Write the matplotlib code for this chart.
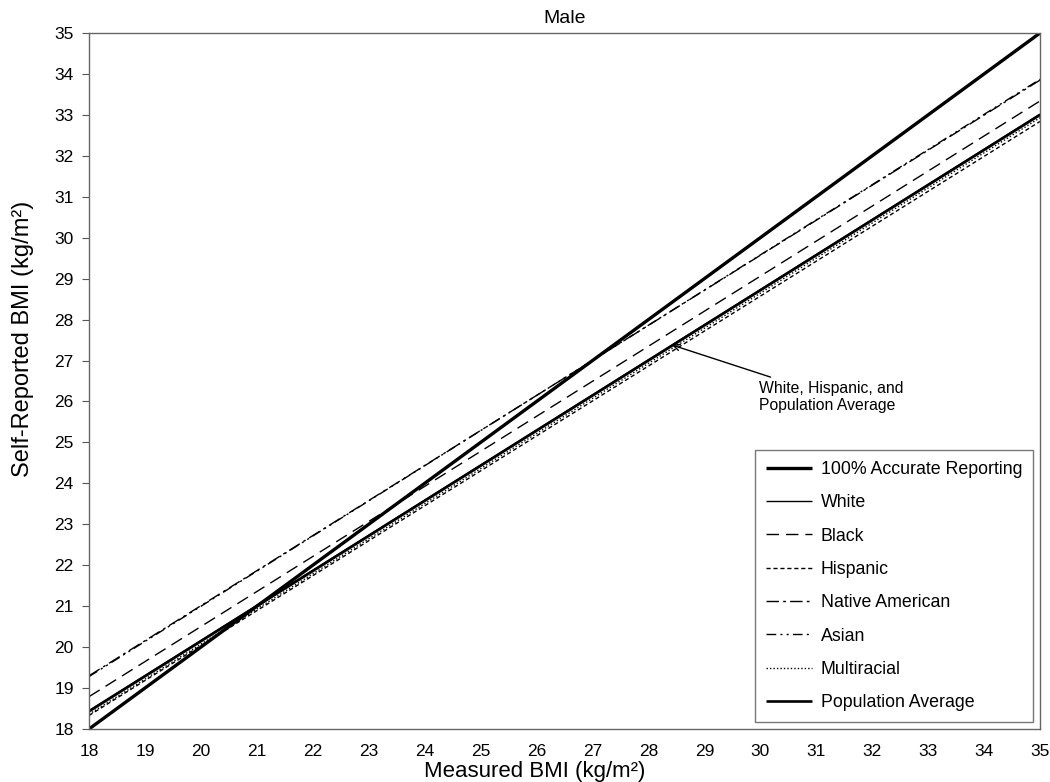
import matplotlib
matplotlib.use("Agg")
import matplotlib.pyplot as plt
import numpy as np

plt.rcParams['font.family'] = ['Liberation Sans', 'DejaVu Sans']

# Data: line endpoints (measured BMI 18 -> 35)
x_range = [18, 35]
series_names = ["100% Accurate Reporting", "White", "Black", "Hispanic",
                "Native American", "Asian", "Multiracial", "Population Average"]
accurate = [18.0, 35.0]
white = [18.45, 33.02]
black = [18.79, 33.34]
hispanic = [18.33, 32.84]
native_american = [19.30, 33.85]
asian = [19.28, 33.87]
multiracial = [18.36, 32.93]
population_average = [18.43, 33.00]

x_tick_labels = [str(v) for v in range(18, 36)]
y_tick_labels = [str(v) for v in range(18, 36)]

fig = plt.figure(figsize=(10.5, 7.82), dpi=100)
ax = fig.add_axes([0.0848, 0.0678, 0.9057, 0.89])

styles = [
    dict(color='black', lw=2.4, ls='-'),
    dict(color='black', lw=1.0, ls='-'),
    dict(color='black', lw=1.0, ls=(0, (9, 5))),
    dict(color='black', lw=1.0, ls=(0, (3, 2))),
    dict(color='black', lw=1.0, ls=(0, (9, 3, 2, 3))),
    dict(color='black', lw=1.0, ls=(0, (7, 3, 1.5, 3, 1.5, 3))),
    dict(color='black', lw=1.0, ls=(0, (1, 1.5))),
    dict(color='black', lw=1.9, ls='-'),
]
data = [accurate, white, black, hispanic, native_american, asian, multiracial, population_average]
for name, vals, st in zip(series_names, data, styles):
    ax.plot(x_range, vals, label=name, solid_capstyle='butt', **st)

ax.set_xlim(18, 35)
ax.set_ylim(18, 35)

ax.set_xticks(range(18, 36))
ax.set_xticklabels(x_tick_labels, fontsize=12.5)
ax.set_xticks([18, 23, 28, 33], minor=True)
ax.tick_params(axis='x', which='major', length=0, pad=11)
ax.tick_params(axis='x', which='minor', length=6, direction='out', color='#555555')
ax.set_yticks(range(18, 36))
ax.set_yticklabels(y_tick_labels, fontsize=12.5)
ax.tick_params(axis='y', which='major', length=5, direction='out', color='#555555', pad=6)

for s in ax.spines.values():
    s.set_color('#666666')
    s.set_linewidth(1.0)

ax.set_xlabel("Measured BMI (kg/m²)", fontsize=16)
ax.xaxis.set_label_coords(0.469, -0.046)
ax.set_ylabel("Self-Reported BMI (kg/m²)", fontsize=17)
ax.yaxis.set_label_coords(-0.058, 0.56)
ax.set_title("Male", fontsize=14, pad=7)

leg = ax.legend(loc='lower right', bbox_to_anchor=(0.9926, 0.01), fontsize=12.8,
                frameon=True, fancybox=False, edgecolor='#555555',
                handlelength=2.6, labelspacing=0.92, borderpad=0.6,
                handletextpad=0.5, borderaxespad=0)
leg.get_frame().set_linewidth(1.0)

ax.annotate("White, Hispanic, and\nPopulation Average",
            xy=(28.42, 27.38), xytext=(29.98, 26.11),
            fontsize=11.3, va='center', ha='left',
            arrowprops=dict(arrowstyle='->', color='black', lw=1.0,
                            shrinkA=2, shrinkB=0))

fig.savefig("out.png", dpi=100)
